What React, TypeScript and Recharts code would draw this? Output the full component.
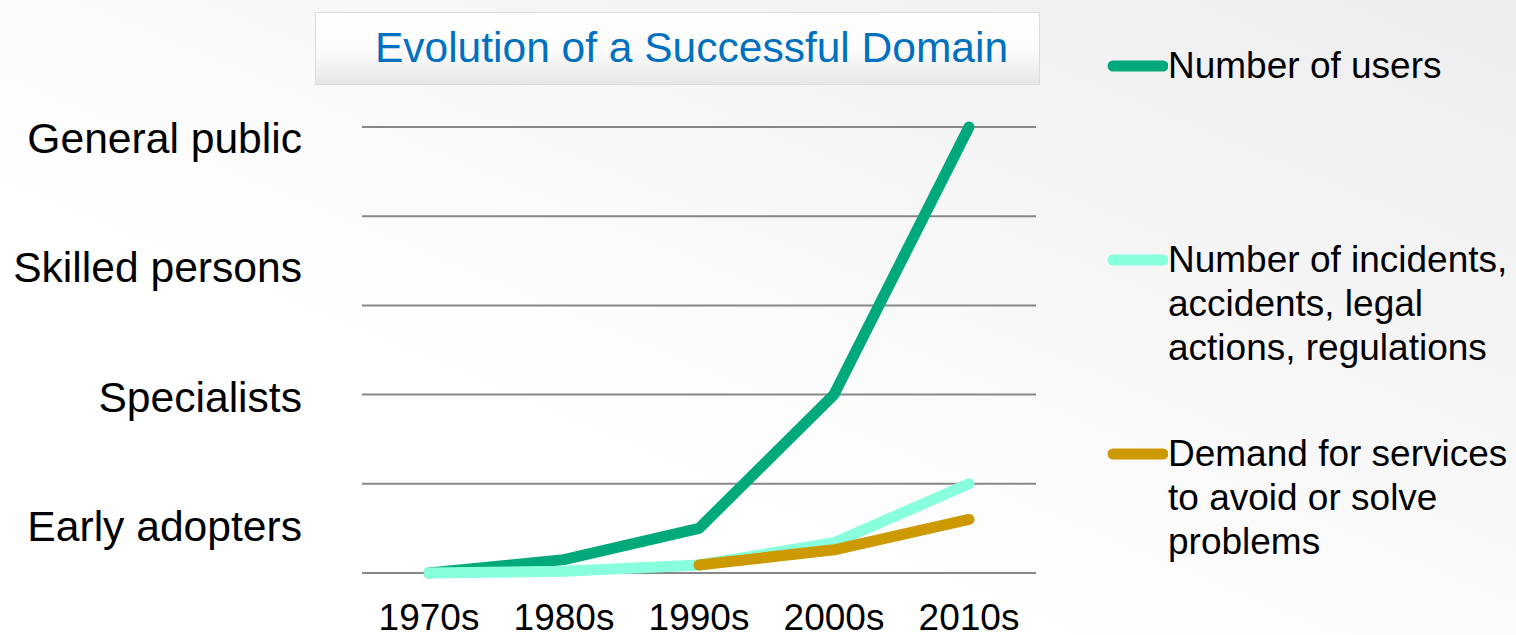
import { LineChart, Line, XAxis, YAxis, ReferenceLine } from 'recharts';

const decades = ['1970s', '1980s', '1990s', '2000s', '2010s'];
const users = [0, 0.15, 0.5, 2.0, 5.0];
const incidents = [0, 0.02, 0.09, 0.34, 1.0];
const demand = [null, null, 0.09, 0.26, 0.6];

const levelNames = ['Early adopters', 'Specialists', 'Skilled persons', 'General public'];
const levelValues = [0.53, 1.97, 3.43, 4.88];
const gridValues = [0, 1, 2, 3, 4, 5];

const seriesKeys = ['users', 'incidents', 'demand'];
const seriesNames = [
  'Number of users',
  'Number of incidents, accidents, legal actions, regulations',
  'Demand for services to avoid or solve problems',
];
const seriesColors = ['#00A97B', '#88FFDD', '#CC9900'];

const data = decades.map((d, i) => ({
  decade: d,
  users: users[i],
  incidents: incidents[i],
  demand: demand[i],
}));

const FONT = '"Liberation Sans", Arial, sans-serif';

export default function App() {
  return (
    <div
      style={{
        position: 'fixed', left: 0, top: 0, width: 1516, height: 635, overflow: 'hidden',
        fontFamily: FONT,
        background: 'linear-gradient(to bottom left, #ededef 0%, #f6f6f7 35%, #ffffff 65%)',
      }}
    >
      <div
        style={{
          position: 'absolute', left: 315, top: 12, width: 725, height: 73,
          boxSizing: 'border-box', paddingLeft: 28,
          border: '1px solid #dcdcdc',
          background: 'linear-gradient(#ffffff 0%, #fbfbfb 55%, #e6e6e6 100%)',
          color: '#0070C0', fontSize: 42.5, lineHeight: '70px', textAlign: 'center',
        }}
      >
        Evolution of a Successful Domain
      </div>

      <LineChart
        width={1516} height={635} data={data}
        margin={{ top: 127, right: 480, bottom: 0, left: 0 }}
        style={{ position: 'absolute', left: 0, top: 0 }}
      >
        {gridValues.map((v) => (
          <ReferenceLine key={v} y={v} stroke="#878787" strokeWidth={2} />
        ))}
        <XAxis
          dataKey="decade" height={62} padding={{ left: 67, right: 67 }}
          axisLine={false} tickLine={false} tickSize={0} tickMargin={31}
          tick={{ fill: '#000', fontSize: 37 }} interval={0}
        />
        <YAxis
          type="number" domain={[0, 5]} ticks={levelValues} width={362}
          tickFormatter={(v: number) => levelNames[levelValues.indexOf(v)] ?? ''}
          axisLine={false} tickLine={false} tickSize={0} tickMargin={60}
          tick={{ fill: '#000', fontSize: 42.6 }} interval={0}
        />
        {seriesKeys.map((k, i) => (
          <Line
            key={k} type="linear" dataKey={k} name={seriesNames[i]}
            stroke={seriesColors[i]} strokeWidth={11} dot={false}
            strokeLinecap="round" strokeLinejoin="round"
            isAnimationActive={false}
          />
        ))}
      </LineChart>

      {seriesNames.map((name, i) => (
        <div
          key={name}
          style={{ position: 'absolute', left: 1106, top: 44 + i * 194, display: 'flex' }}
        >
          <svg width={62} height={44}>
            <line
              x1={7} y1={22} x2={57} y2={22}
              stroke={seriesColors[i]} strokeWidth={11} strokeLinecap="round"
            />
          </svg>
          <div style={{ width: 350, fontSize: 37, lineHeight: '44px', color: '#000' }}>
            {name}
          </div>
        </div>
      ))}
    </div>
  );
}
